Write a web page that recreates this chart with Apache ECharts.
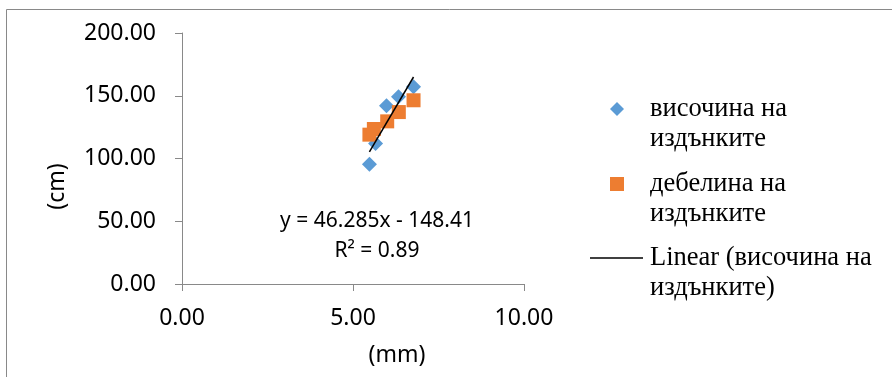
<!DOCTYPE html>
<html>
<head>
<meta charset="utf-8">
<script src="https://cdn.jsdelivr.net/npm/echarts@6/dist/echarts.min.js"></script>
<style>
  html, body { margin: 0; padding: 0; background: #fff; }
  #chart { width: 892px; height: 377px; }
</style>
</head>
<body>
<div id="chart"></div>
<script>
// Shoot height (cm) and shoot thickness vs. diameter (mm)
const heightX = [5.48, 5.66, 5.98, 6.33, 6.77];
const heightY = [95.4, 112.0, 142.0, 149.2, 157.2];
const thickX = [5.48, 5.61, 6.00, 6.34, 6.77];
const thickY = [119.0, 123.5, 129.6, 137.0, 146.4];

// Linear trend for the height series
const trendSlope = 46.285;
const trendIntercept = -148.41;
const trendR2 = 0.89;

const xTicks = [0, 5, 10];
const yTicks = [0, 50, 100, 150, 200];

const nameHeight = 'височина на издънките';
const nameThick = 'дебелина на издънките';
const nameTrend = 'Linear (височина на издънките)';

const pairs = (xs, ys) => xs.map((x, i) => [x, ys[i]]);
const trendXs = [Math.min(...heightX), Math.max(...heightX)];
const trendData = trendXs.map(x => [x, trendSlope * x + trendIntercept]);

const axisFont = 'Noto Sans';
const legendFont = 'Liberation Serif';
const axisGray = '#898989';

// Legend labels wrap onto two lines; a leading blank line keeps the
// icon level with the first line of text.
const legendText = (padLeft) => ({
  fontFamily: legendFont,
  fontSize: 26.5,
  lineHeight: 30,
  color: '#000',
  padding: [0, 0, 0, padLeft]
});

const chart = echarts.init(document.getElementById('chart'), null, { renderer: 'canvas' });

chart.setOption({
  animation: false,
  backgroundColor: '#fff',
  grid: { left: 182, right: 368, top: 33, bottom: 93, containLabel: false },
  xAxis: {
    type: 'value',
    min: xTicks[0],
    max: xTicks[xTicks.length - 1],
    interval: xTicks[1] - xTicks[0],
    name: '(mm)',
    nameLocation: 'middle',
    nameGap: 60,
    nameTextStyle: { fontFamily: axisFont, fontSize: 23, color: '#000', padding: [0, 0, 0, 88] },
    axisLine: { show: true, lineStyle: { color: axisGray, width: 1 } },
    axisTick: { show: true, length: 7, lineStyle: { color: axisGray } },
    axisLabel: { margin: 23, fontFamily: axisFont, fontSize: 23, color: '#000',
      formatter: v => v.toFixed(2) },
    splitLine: { show: false }
  },
  yAxis: {
    type: 'value',
    min: yTicks[0],
    max: yTicks[yTicks.length - 1],
    interval: yTicks[1] - yTicks[0],
    name: '(cm)',
    nameLocation: 'middle',
    nameGap: 113,
    nameRotate: 90,
    nameTextStyle: { fontFamily: axisFont, fontSize: 23, color: '#000', padding: [0, 56, 0, 0] },
    axisLine: { show: true, lineStyle: { color: axisGray, width: 1 } },
    axisTick: { show: true, length: 7, lineStyle: { color: axisGray } },
    axisLabel: { margin: 26, fontFamily: axisFont, fontSize: 23, color: '#000',
      formatter: v => v.toFixed(2) },
    splitLine: { show: false }
  },
  legend: [
    {
      data: [{ name: nameHeight, icon: 'diamond' }],
      orient: 'vertical', left: 610, top: 64, padding: 0,
      itemWidth: 14, itemHeight: 14,
      formatter: () => '\nвисочина на\nиздънките',
      textStyle: legendText(21),
      selectedMode: false
    },
    {
      data: [{ name: nameThick, icon: 'rect' }],
      orient: 'vertical', left: 610, top: 139, padding: 0,
      itemWidth: 14, itemHeight: 14,
      formatter: () => '\nдебелина на\nиздънките',
      textStyle: legendText(21),
      selectedMode: false
    },
    {
      data: [{ name: nameTrend, icon: 'rect' }],
      orient: 'vertical', left: 590, top: 213, padding: 0,
      itemWidth: 53, itemHeight: 1.5,
      formatter: () => '\nLinear (височина на\nиздънките)',
      textStyle: legendText(2),
      selectedMode: false
    }
  ],
  graphic: [
    {
      type: 'rect',
      shape: { x: 6.5, y: 9.5, width: 1000, height: 1000 },
      style: { fill: 'none', stroke: axisGray, lineWidth: 1 },
      silent: true, z: -10
    },
    {
      type: 'text',
      x: 377, y: 206,
      style: {
        text: 'y = ' + trendSlope + 'x - ' + Math.abs(trendIntercept) + '\nR² = ' + trendR2.toFixed(2),
        align: 'center',
        verticalAlign: 'top',
        fontFamily: axisFont, fontSize: 21, lineHeight: 30, fill: '#000'
      }
    }
  ],
  series: [
    {
      name: nameHeight,
      type: 'scatter',
      symbol: 'diamond',
      symbolSize: 15,
      itemStyle: { color: '#5B9BD5', opacity: 1 },
      data: pairs(heightX, heightY),
      z: 2
    },
    {
      name: nameThick,
      type: 'scatter',
      symbol: 'rect',
      symbolSize: 14,
      itemStyle: { color: '#ED7D31', opacity: 1 },
      data: pairs(thickX, thickY),
      z: 3
    },
    {
      name: nameTrend,
      type: 'line',
      symbol: 'none',
      lineStyle: { color: '#000', width: 1.5 },
      itemStyle: { color: '#000' },
      data: trendData,
      z: 4
    }
  ]
});
</script>
</body>
</html>
